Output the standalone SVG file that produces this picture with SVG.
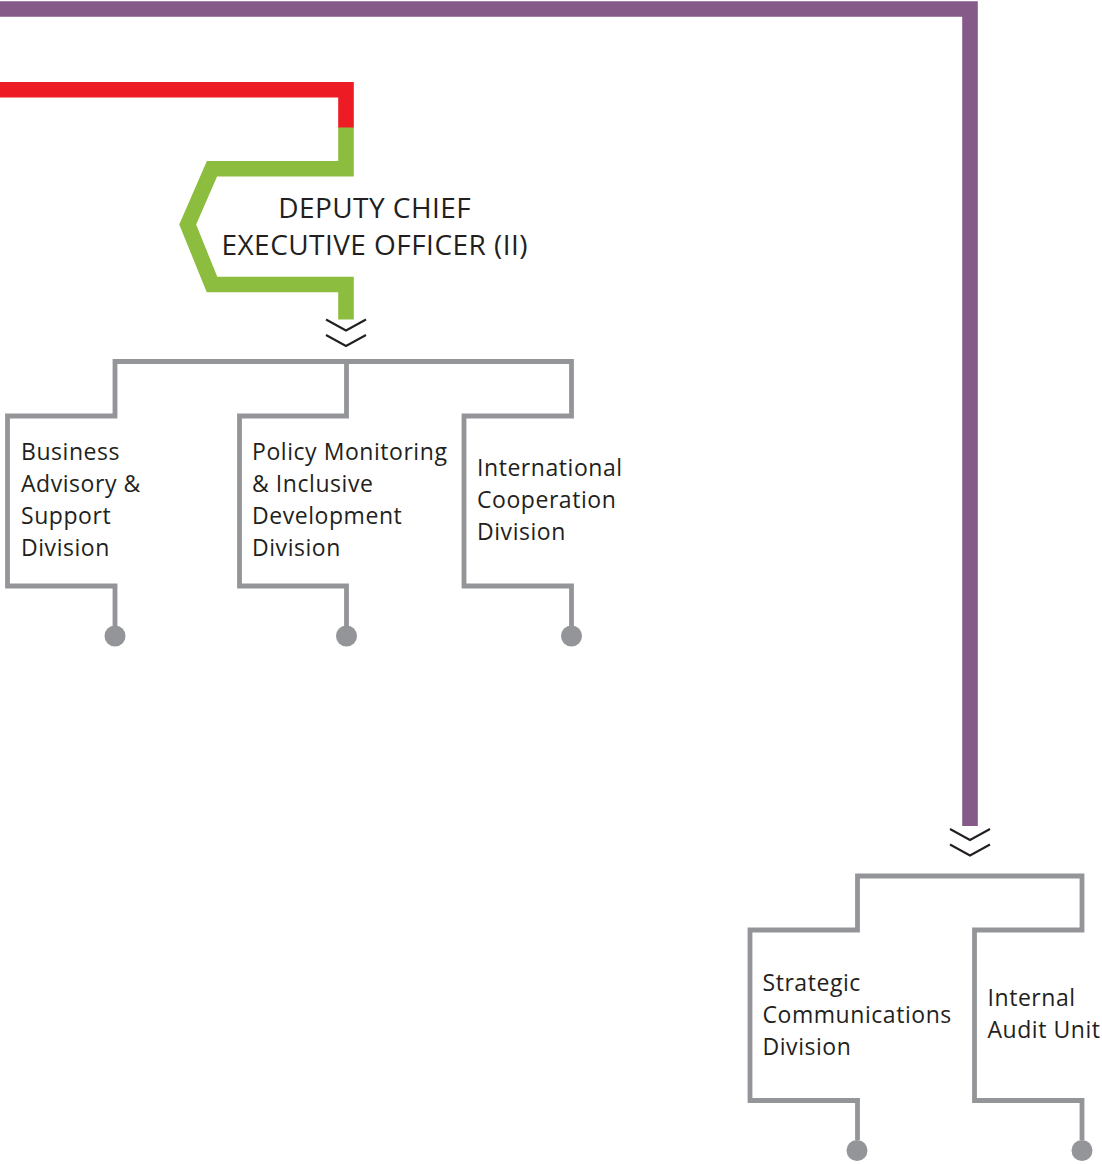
<svg xmlns="http://www.w3.org/2000/svg" width="1102" height="1164" viewBox="0 0 1102 1164">
<style>
.bg{fill:#ffffff}
.thick{fill:none;stroke-width:15.6;stroke-linejoin:miter;stroke-linecap:butt}
.purple{stroke:#855a88}
.red{stroke:#ed1c24}
.green{stroke:#8cbd3f}
.org{fill:none;stroke:#939598;stroke-width:4.8;stroke-linejoin:miter;stroke-linecap:butt}
.dot{fill:#939598}
.chev{fill:none;stroke:#231f20;stroke-width:2}
.lbl{font-family:"Open Sans","Noto Sans","Liberation Sans",sans-serif;font-size:23px;letter-spacing:0.55px;fill:#231f20}
.title{font-family:"Open Sans","Noto Sans","Liberation Sans",sans-serif;font-size:28px;letter-spacing:0.45px;fill:#231f20;text-anchor:middle}
</style>
<defs>
<g id="chevrons">
<polyline class="chev" points="-20,0 0,11 20,0"/>
<polyline class="chev" points="-20,15.5 0,26.5 20,15.5"/>
</g>
</defs>
<rect class="bg" x="0" y="0" width="1102" height="1164"/>
<g id="connectors">
<path class="thick purple" d="M0,9 H970 V826"/>
<path class="thick red" d="M0,89.8 H346 V128"/>
<path class="thick green" d="M346,127.5 V168.7 H212 L187.7,224.5 L212,284.5 H346 V319.5"/>
<use href="#chevrons" x="346" y="319.5"/>
<use href="#chevrons" x="970" y="829"/>
<path class="org" d="M115,626 V586 H7.5 V416 H115 V361.5 H571.5 V416 H464 V586 H571.5 V626"/>
<path class="org" d="M346.5,361.5 V416 H239.5 V586 H346.5 V626"/>
<path class="org" d="M857.5,1140 V1100.5 H750 V930 H857.5 V876 H1082 V930 H974.5 V1100.5 H1082 V1140"/>
</g>
<g id="deputy-ceo-2">
<text class="title" x="374.7" y="217.5">DEPUTY CHIEF</text>
<text class="title" x="374.7" y="255">EXECUTIVE OFFICER (II)</text>
</g>
<g id="business-advisory">
<text class="lbl" x="21" y="460">Business</text>
<text class="lbl" x="21" y="492">Advisory &amp;</text>
<text class="lbl" x="21" y="524">Support</text>
<text class="lbl" x="21" y="556">Division</text>
<circle class="dot" cx="115" cy="636" r="10.5"/>
</g>
<g id="policy-monitoring">
<text class="lbl" x="252" y="460">Policy Monitoring</text>
<text class="lbl" x="252" y="492">&amp; Inclusive</text>
<text class="lbl" x="252" y="524">Development</text>
<text class="lbl" x="252" y="556">Division</text>
<circle class="dot" cx="346.5" cy="636" r="10.5"/>
</g>
<g id="international-cooperation">
<text class="lbl" x="477" y="476">International</text>
<text class="lbl" x="477" y="508">Cooperation</text>
<text class="lbl" x="477" y="540">Division</text>
<circle class="dot" cx="571.5" cy="636" r="10.5"/>
</g>
<g id="strategic-communications">
<text class="lbl" x="762.5" y="991">Strategic</text>
<text class="lbl" x="762.5" y="1022.5">Communications</text>
<text class="lbl" x="762.5" y="1054.5">Division</text>
<circle class="dot" cx="857" cy="1150.5" r="10.5"/>
</g>
<g id="internal-audit">
<text class="lbl" x="987.5" y="1006">Internal</text>
<text class="lbl" x="987.5" y="1037.5">Audit Unit</text>
<circle class="dot" cx="1082" cy="1150.5" r="10.5"/>
</g>
</svg>
